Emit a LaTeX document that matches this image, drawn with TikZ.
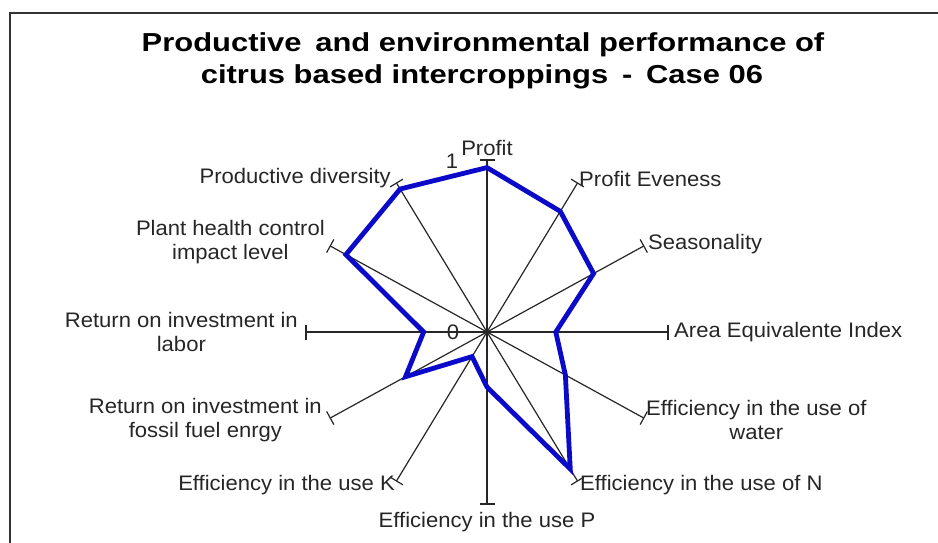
\documentclass[tikz,border=0pt]{standalone}
\usepackage{fontspec}
\setmainfont{Liberation Sans}
\usetikzlibrary{calc}
\definecolor{serie}{RGB}{10,10,200}
\tikzset{
  lab/.style={font=\fontsize{21}{23.5}\selectfont, inner sep=0pt, xscale=1.05, align=center, text=black!85},
  ttl/.style={font=\fontsize{26}{30}\selectfont\bfseries, inner sep=0pt, xscale=1.19, anchor=base},
  axisline/.style={line width=1.2pt, black!85},
  tickmark/.style={line width=1.2pt, black!85},
  datapoly/.style={line width=4.8pt, serie, line join=miter},
  frameline/.style={line width=1.3pt, black!80}
}
\begin{document}
\begin{tikzpicture}[x=1pt,y=-1pt]
\useasboundingbox (0,0) rectangle (938,542);
\draw[frameline] (10,545) -- (10,13) -- (945,13);
\node[ttl] (t1) at (483,51.7) {Productive\, and environmental performance of};
\node[ttl] (t2) at (482,83.3) {citrus based intercroppings\, - \,Case 06};
\coordinate (c) at (487,332);
\foreach \k/\v in {0/0.956,1/0.81,2/0.68,3/0.38,4/0.5,5/0.92,6/0.32,7/0.165,8/0.52,9/0.35,10/0.9,11/0.96}{
  \coordinate (e\k) at ({487+181*sin(30*\k)},{332-172*cos(30*\k)});
  \coordinate (p\k) at ({487+181*\v*sin(30*\k)},{332-172*\v*cos(30*\k)});
}
\foreach \k in {0,...,11}{
  \draw[axisline] (c) -- (e\k);
  \draw[tickmark] ($(e\k)!7.5pt!90:(c)$) -- ($(e\k)!7.5pt!-90:(c)$);
}
\draw[datapoly] (p0) -- (p1) -- (p2) -- (p3) -- (p4) -- (p5) -- (p6) -- (p7) -- (p8) -- (p9) -- (p10) -- (p11) -- cycle;
\node[lab, anchor=south] (l0) at (487,156) {Profit};
\node[lab] (one) at (452,161) {1};
\node[lab] (zero) at (453,332) {0};
\node[lab, anchor=west] (l1) at (579,179) {Profit Eveness};
\node[lab, anchor=west] (l2) at (648,244) {Seasonality};
\node[lab, anchor=west] (l3) at (674,332) {Area Equivalente Index};
\node[lab, anchor=west] (l4) at (646,420) {Efficiency in the use of\\water};
\node[lab, anchor=west] (l5) at (580,485) {Efficiency in the use of N};
\node[lab, anchor=north] (l6) at (487,512) {Efficiency in the use P};
\node[lab, anchor=east] (l7) at (395,485) {Efficiency in the use K};
\node[lab, anchor=east] (l8) at (322,420) {Return on investment in\\fossil fuel enrgy};
\node[lab, anchor=east] (l9) at (298,332) {Return on investment in\\labor};
\node[lab, anchor=east] (l10) at (325,242) {Plant health control\\impact level};
\node[lab, anchor=east] (l11) at (391,178) {Productive diversity};
\end{tikzpicture}
\end{document}
